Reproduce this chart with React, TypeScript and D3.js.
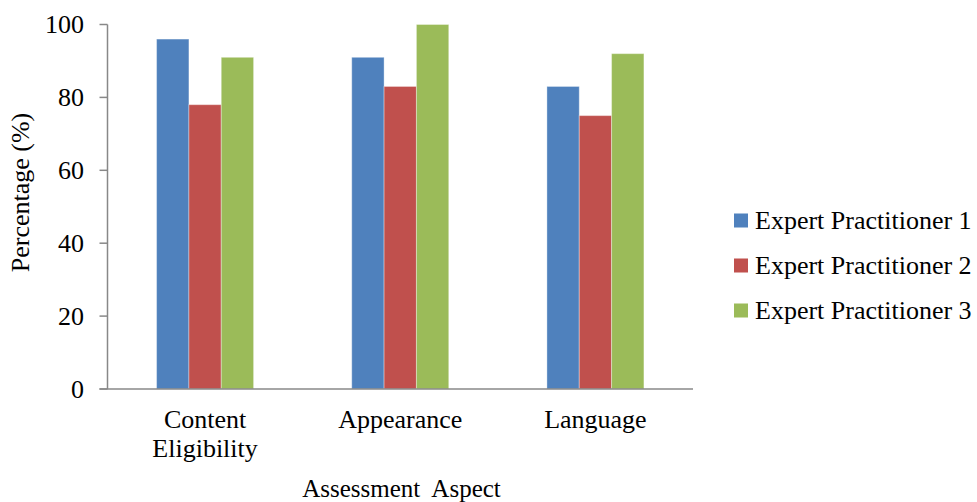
import React from "react";
import * as d3 from "d3";

const categories = ["Content Eligibility", "Appearance", "Language"];
const categoryLines = [["Content", "Eligibility"], ["Appearance"], ["Language"]];
const seriesNames = ["Expert Practitioner 1", "Expert Practitioner 2", "Expert Practitioner 3"];
const seriesColors = ["#4F81BD", "#C0504D", "#9BBB59"];
const practitioner1 = [96, 91, 83];
const practitioner2 = [78, 83, 75];
const practitioner3 = [91, 100, 92];
const seriesValues = [practitioner1, practitioner2, practitioner3];
const yTicks = [0, 20, 40, 60, 80, 100];

const W = 977;
const H = 502;
const left = 107.5;
const right = 693;
const top = 24.5;
const bottom = 389;
const FONT = "Liberation Serif, DejaVu Serif, Times New Roman, serif";

export default function App() {
  const x0 = d3.scaleBand<string>().domain(categories).range([left, right]).padding(0);
  const groupW = x0.bandwidth() * 0.497;
  const x1 = d3.scaleBand<string>().domain(seriesNames).range([0, groupW]).padding(0);
  const y = d3.scaleLinear().domain([0, 100]).range([bottom, top]);
  const axisColor = "#888888";
  const txt = { fontFamily: FONT, fontSize: 26, fill: "#000" } as React.CSSProperties;

  return (
    <svg width={W} height={H} style={{ position: "absolute", left: 0, top: 0, background: "#fff" }}>
      {/* bars */}
      {categories.map((c, ci) => {
        const gx = (x0(c) as number) + (x0.bandwidth() - groupW) / 2;
        return (
          <g key={c}>
            {seriesNames.map((s, si) => {
              const v = seriesValues[si][ci];
              return (
                <rect
                  key={s}
                  x={gx + (x1(s) as number)}
                  y={y(v)}
                  width={x1.bandwidth()}
                  height={y(0) - y(v)}
                  fill={seriesColors[si]}
                  stroke="#ffffff"
                  strokeOpacity={0.35}
                  strokeWidth={1}
                />
              );
            })}
          </g>
        );
      })}
      {/* y axis */}
      <line x1={left} x2={left} y1={y(100)} y2={y(0)} stroke={axisColor} strokeWidth={1.5} />
      {yTicks.map((t) => (
        <g key={t}>
          <line x1={left - 8} x2={left} y1={y(t)} y2={y(t)} stroke={axisColor} strokeWidth={1.5} />
          <text x={84} y={y(t)} dy="0.34em" textAnchor="end" style={txt}>
            {t}
          </text>
        </g>
      ))}
      {/* x axis */}
      <line x1={left - 8} x2={right} y1={y(0)} y2={y(0)} stroke={axisColor} strokeWidth={1.5} />
      {categories.map((c, ci) => {
        const cx = (x0(c) as number) + x0.bandwidth() / 2;
        return (
          <g key={c}>
            {categoryLines[ci].map((ln, li) => (
              <text key={li} x={cx} y={428 + li * 28.8} textAnchor="middle" style={txt}>
                {ln}
              </text>
            ))}
          </g>
        );
      })}
      {/* axis titles */}
      <text x={401.5} y={497} textAnchor="middle" style={{ ...txt, fontSize: 25, whiteSpace: "pre" }}>
        {"Assessment  Aspect"}
      </text>
      <text transform={`translate(29,${192.5}) rotate(-90)`} textAnchor="middle" style={txt}>
        Percentage (%)
      </text>
      {/* legend */}
      {seriesNames.map((s, si) => {
        const by = 229 + si * 45;
        return (
          <g key={s}>
            <rect x={734} y={by - 15.5} width={14} height={14} fill={seriesColors[si]} />
            <text x={755} y={by} style={txt}>
              {s}
            </text>
          </g>
        );
      })}
    </svg>
  );
}
